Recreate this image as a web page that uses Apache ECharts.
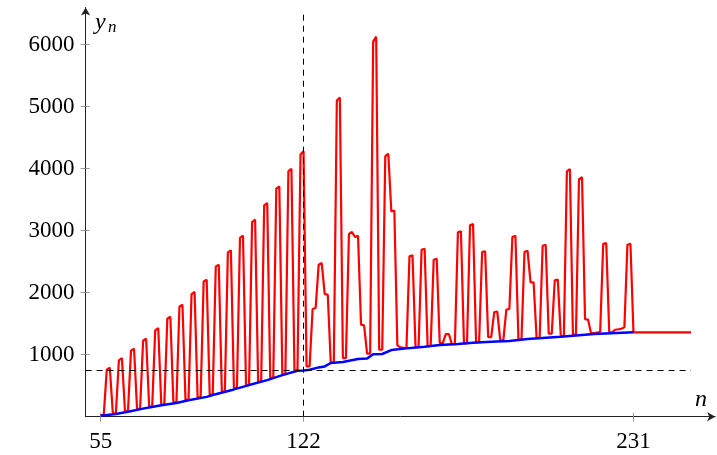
<!DOCTYPE html>
<html>
<head>
<meta charset="utf-8">
<script src="https://cdn.jsdelivr.net/npm/echarts@6/dist/echarts.min.js"></script>
<style>
  html, body { margin: 0; padding: 0; background: #fff; }
  #main { width: 717px; height: 455px; }
</style>
</head>
<body>
<div id="main"></div>
<script>
var chartDom = document.getElementById('main');
var myChart = echarts.init(chartDom);
var option;

const xTicks = [55, 122, 231];
const yTicks = [1000, 2000, 3000, 4000, 5000, 6000];

// y_n for n = 55, 56, ..., 250
const redStart = 55;
const redValues = [
  20, 30, 760, 790, 60, 55, 910, 945, 95, 90,
  1065, 1095, 130, 125, 1225, 1258, 165, 162, 1392, 1430,
  200, 195, 1580, 1613, 235, 230, 1774, 1806, 275, 270,
  1978, 2011, 315, 308, 2180, 2210, 360, 352, 2420, 2452,
  410, 405, 2650, 2683, 465, 458, 2885, 2919, 510, 510,
  3140, 3177, 570, 565, 3410, 3446, 625, 625, 3680, 3715,
  685, 688, 3960, 3999, 750, 748, 4230, 4280,
  // n = 123 ..
  811, 811, 1737, 1753, 2452, 2479, 1978, 1968, 866, 872,
  5100, 5150, 945, 945, 2947, 2979, 2898, 2919, 1484, 1473,
  1016, 1016, 6050, 6130, 1080, 1080, 4199, 4242, 3311, 3327,
  1150, 1118, 1110, 1108, 2586, 2602, 1120, 1122, 2694, 2710,
  1136, 1140, 2532, 2548, 1188, 1188, 1333, 1333, 1170, 1172,
  2973, 2989, 1183, 1187, 3086, 3108, 1204, 1204, 2656, 2667,
  1285, 1285, 1688, 1694, 1231, 1231, 1726, 1737, 2898, 2919,
  1242, 1245, 2656, 2677, 2166, 2166, 1269, 1269, 2758, 2774,
  1339, 1339, 2199, 2210, 1296, 1296, 3957, 3995, 1323, 1330,
  3833, 3865, 1575, 1565, 1344, 1350, 1355, 1371, 2790, 2801,
  1355, 1365, 1403, 1410, 1419, 1441, 2774, 2790, 1361,
  // n = 232 .. 250
  1361, 1361, 1361, 1361, 1361, 1361, 1361, 1361, 1361, 1361,
  1361, 1361, 1361, 1361, 1361, 1361, 1361, 1361, 1361
];

// lower curve, corners only
const blueN = [55, 60, 64, 71, 75, 80, 84, 90, 92, 99, 104, 110, 115, 120, 122,
  124, 127, 129, 131, 135, 140, 143, 145, 148, 151, 156, 162, 167, 173, 178,
  184, 190, 196, 207, 218, 231];
const blueValues = [15, 45, 80, 150, 185, 220, 265, 320, 350, 440, 510, 590, 670, 740, 745,
  758, 795, 811, 866, 882, 930, 937, 1008, 1011, 1075, 1102, 1129, 1156, 1172, 1194,
  1210, 1221, 1253, 1290, 1333, 1361];

const refN = 122;
const refY = 745;

const serif = 'Liberation Serif';
const xMin = 50, xMax = 258, yMax = 6600;

var redData = redValues.map(function (v, i) { return [redStart + i, v]; });
var blueData = blueN.map(function (n, i) { return [n, blueValues[i]]; });

var tickStyle = { color: '#9a9a9a', width: 1 };
var plain = function (v) { return String(v); };

option = {
  animation: false,
  grid: { left: 85.6, top: 7.5, width: 629.6, height: 409.2 },
  xAxis: [
    {
      type: 'value', min: xMin, max: xMax, position: 'bottom',
      axisLine: { show: true, symbol: ['none', 'arrow'], symbolSize: [7, 8], lineStyle: { color: '#222', width: 1 } },
      axisTick: { show: true, customValues: xTicks, length: 5, inside: false, lineStyle: tickStyle },
      axisLabel: { customValues: xTicks, formatter: plain, margin: 14, color: '#000', fontFamily: serif, fontSize: 23 },
      splitLine: { show: false }
    },
    {
      type: 'value', min: xMin, max: xMax, position: 'bottom',
      axisLine: { show: false },
      axisTick: { show: true, customValues: xTicks, length: 4, inside: true, lineStyle: tickStyle },
      axisLabel: { show: false },
      splitLine: { show: false }
    }
  ],
  yAxis: [
    {
      type: 'value', min: 0, max: yMax, position: 'left',
      axisLine: { show: true, symbol: ['none', 'arrow'], symbolSize: [7, 8], lineStyle: { color: '#222', width: 1 } },
      axisTick: { show: true, customValues: yTicks, length: 5, inside: false, lineStyle: tickStyle },
      axisLabel: { customValues: yTicks, formatter: plain, margin: 11, color: '#000', fontFamily: serif, fontSize: 23 },
      splitLine: { show: false }
    },
    {
      type: 'value', min: 0, max: yMax, position: 'left',
      axisLine: { show: false },
      axisTick: { show: true, customValues: yTicks, length: 4, inside: true, lineStyle: tickStyle },
      axisLabel: { show: false },
      splitLine: { show: false }
    }
  ],
  graphic: [
    { type: 'text', left: 95, top: 11, style: { text: 'y', fill: '#000', font: 'italic 24px "Liberation Serif"' } },
    { type: 'text', left: 108, top: 19, style: { text: 'n', fill: '#000', font: 'italic 17px "Liberation Serif"' } },
    { type: 'text', left: 695, top: 388, style: { text: 'n', fill: '#000', font: 'italic 24px "Liberation Serif"' } }
  ],
  series: [
    {
      name: 'y', type: 'line', data: redData, showSymbol: false, z: 2,
      lineStyle: { color: '#ff0000', width: 2.2 }
    },
    {
      name: 'lower', type: 'line', data: blueData, showSymbol: false, z: 3,
      lineStyle: { color: '#0000ff', width: 2.5 }
    },
    {
      name: 'ref', type: 'line', data: [], z: 4,
      markLine: {
        silent: true, symbol: ['none', 'none'], label: { show: false },
        lineStyle: { color: '#000', type: [6, 5], width: 1 },
        data: [
          [{ coord: [refN, 0] }, { coord: [refN, 6500] }],
          [{ coord: [xMin, refY] }, { coord: [250, refY] }]
        ]
      }
    }
  ]
};

option && myChart.setOption(option);
</script>
</body>
</html>
